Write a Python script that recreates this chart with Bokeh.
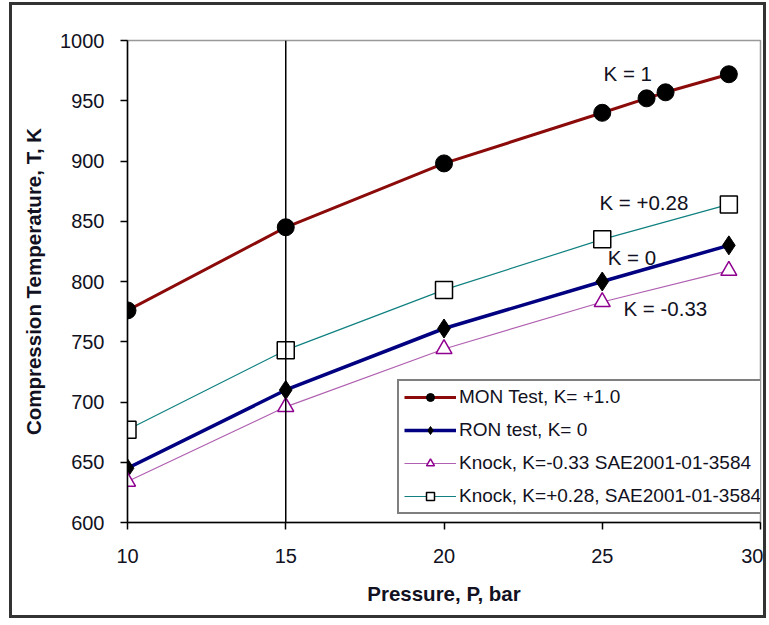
from bokeh.plotting import figure
from bokeh.models import Span, Legend, LegendItem, Label, FixedTicker
from bokeh.embed import file_html
from bokeh.resources import INLINE

# Data
p_mon = [10, 15, 20, 25, 26.4, 27, 29]
t_mon = [776, 845, 898, 940, 952, 957, 972]
p_ron = [10, 15, 20, 25, 29]
t_ron = [645, 710, 761, 800, 830]
p_kn033 = [10, 15, 20, 25, 29]
t_kn033 = [634, 696, 744, 783, 809]
p_kp028 = [10, 15, 20, 25, 29]
t_kp028 = [677, 743, 793, 835, 864]
x_ticks = [10, 15, 20, 25, 30]
y_ticks = [600, 650, 700, 750, 800, 850, 900, 950, 1000]
ann_text = ["K = 1", "K = +0.28", "K = 0", "K = -0.33"]
ann_x = [25.04, 24.91, 25.17, 25.67]
ann_y = [973, 865.5, 820, 778]

FONT = "Liberation Sans"
TXT = "#111122"

p = figure(width=757, height=616, output_backend="svg", toolbar_location=None,
           x_range=(10, 30), y_range=(600, 1000),
           min_border_left=115, min_border_right=9, min_border_top=35, min_border_bottom=99)
p.margin = (2, 0, 0, 9)
p.styles = {"border": "3px solid #333333"}

p.xgrid.visible = False
p.ygrid.visible = False
p.outline_line_color = "#999999"
p.outline_line_width = 1.5

for ax in (p.xaxis[0], p.yaxis[0]):
    ax.axis_line_color = "black"
    ax.axis_line_width = 1.5
    ax.major_tick_line_color = "black"
    ax.major_tick_line_width = 1.5
    ax.major_tick_in = 0
    ax.major_tick_out = 7
    ax.minor_tick_line_color = None
    ax.major_label_text_font = FONT
    ax.major_label_text_font_size = "20px"
    ax.major_label_text_color = TXT
    ax.axis_label_text_font = FONT
    ax.axis_label_text_font_style = "bold"
    ax.axis_label_text_font_size = "20.5px"
    ax.axis_label_text_color = TXT

p.xaxis.ticker = FixedTicker(ticks=x_ticks)
p.yaxis.ticker = FixedTicker(ticks=y_ticks)
p.xaxis.axis_label = "Pressure, P, bar"
p.yaxis.axis_label = "Compression Temperature, T, K"
p.xaxis.major_label_standoff = 19
p.yaxis.major_label_standoff = 16
p.xaxis.axis_label_standoff = 16
p.yaxis.axis_label_standoff = 12

p.add_layout(Span(location=15, dimension="height", line_color="black", line_width=1.5))

r1l = p.line(p_mon, t_mon, line_color="#8B0A0A", line_width=3)
r1m = p.scatter(p_mon, t_mon, marker="circle", size=17, fill_color="black", line_color="black")
r2l = p.line(p_ron, t_ron, line_color="#000080", line_width=3.5)
r2m = p.scatter(p_ron, t_ron, marker="diamond", size=19, fill_color="black", line_color="black")
r3l = p.line(p_kn033, t_kn033, line_color="#B060B0", line_width=1.2)
r3m = p.scatter(p_kn033, t_kn033, marker="triangle", size=16, fill_color="white",
                line_color="#900090", line_width=1.5)
r4l = p.line(p_kp028, t_kp028, line_color="#108080", line_width=1.2)
r4m = p.scatter(p_kp028, t_kp028, marker="square", size=17, fill_color="white",
                line_color="black", line_width=1.5)

for txt, x, y in zip(ann_text, ann_x, ann_y):
    p.add_layout(Label(x=x, y=y, text=txt, text_font=FONT, text_font_size="20.5px",
                       text_color=TXT, text_baseline="middle"))

legend = Legend(items=[
    LegendItem(label="MON Test, K= +1.0", renderers=[r1l, r1m]),
    LegendItem(label="RON test, K= 0", renderers=[r2l, r2m]),
    LegendItem(label="Knock, K=-0.33 SAE2001-01-3584", renderers=[r3l, r3m]),
    LegendItem(label="Knock, K=+0.28, SAE2001-01-3584", renderers=[r4l, r4m]),
], location=(270, 8))
legend.label_text_font = FONT
legend.label_text_font_size = "19px"
legend.label_text_color = TXT
legend.border_line_color = "black"
legend.border_line_width = 2
legend.glyph_width = 52
legend.glyph_height = 20
legend.spacing = 11
legend.padding = 5
legend.margin = 0
legend.label_standoff = 3
legend.background_fill_alpha = 1
p.add_layout(legend, "center")

open("out.html", "w").write(file_html(p, INLINE))
